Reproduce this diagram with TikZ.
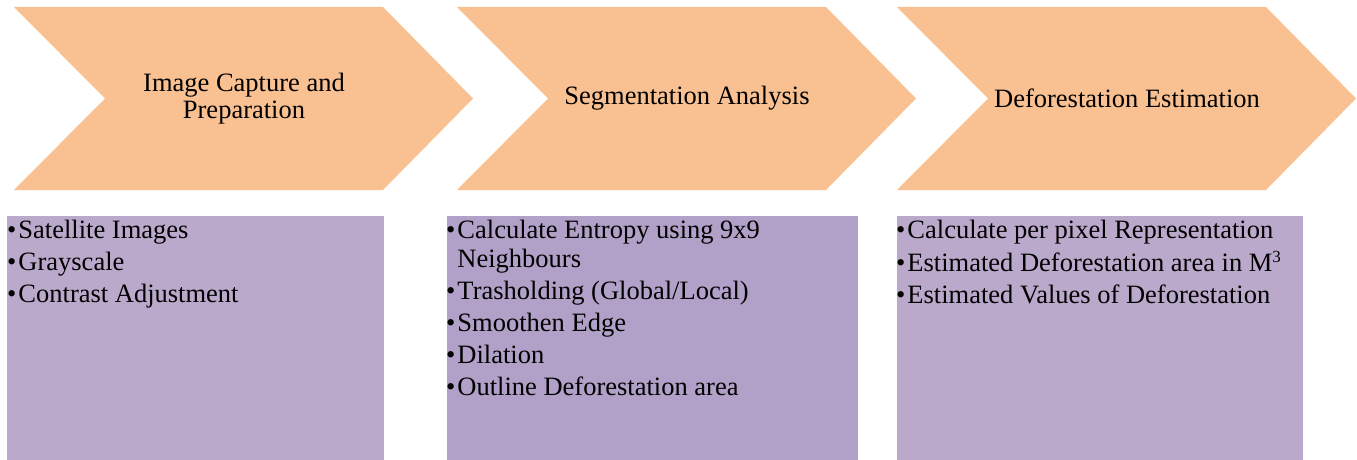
\documentclass[tikz,border=0pt]{standalone}
\usepackage{fontspec}
\setmainfont{Liberation Serif}
\usepackage{tikz}

\definecolor{peach}{HTML}{F9C192}
\definecolor{lilac}{HTML}{BAA9CB}
\definecolor{lilacdark}{HTML}{B1A0C7}
\newcommand{\bul}{\textbullet\hspace{2pt}}

\begin{document}
\begin{tikzpicture}[x=1pt,y=-1pt,
    stagetitle/.style={align=center,inner sep=0pt,font=\fontsize{26.5}{27}\selectfont},
    stageitems/.style={align=left,anchor=north west,inner sep=0pt,font=\fontsize{26.5}{29}\selectfont}]
    \useasboundingbox (0,0) rectangle (1357,460);
    \begin{scope}
      \foreach \x in {14,457,897}
        \fill[peach] (\x,7) -- (\x+369,7) -- (\x+459,98.5) -- (\x+369,190)
          -- (\x,190) -- (\x+91,98.5) -- cycle;
      \fill[lilac] (7,216) rectangle (384,460);
      \fill[lilacdark] (447,216) rectangle (858,460);
      \fill[lilac] (897,216) rectangle (1303,460);
      \node[stagetitle] (capture) at (244,98.5) {Image Capture and\\Preparation};
      \node[stagetitle] (segment) at (687,98.5) {Segmentation Analysis};
      \node[stagetitle] (estimate) at (1127,98.5) {Deforestation Estimation};
      % \strut fixes the top of the first line
      \node[stageitems] (capturelist) at (7,218) {\strut\bul Satellite Images\\[3pt]
        \bul Grayscale\\[3pt]
        \bul Contrast Adjustment};
      \node[stageitems] (segmentlist) at (446,218) {\strut\bul Calculate Entropy using 9x9\\
        \phantom{\bul}Neighbours\\[3pt]
        \bul Trasholding (Global/Local)\\[3pt]
        \bul Smoothen Edge\\[3pt]
        \bul Dilation\\[3pt]
        \bul Outline Deforestation area};
      \node[stageitems] (estimatelist) at (896,218) {\strut\bul Calculate per pixel Representation\\[3pt]
        \bul Estimated Deforestation area in M\raisebox{0.35em}{\fontsize{17}{17}\selectfont 3}\\[3pt]
        \bul Estimated Values of Deforestation};
    \end{scope}
\end{tikzpicture}
\end{document}
